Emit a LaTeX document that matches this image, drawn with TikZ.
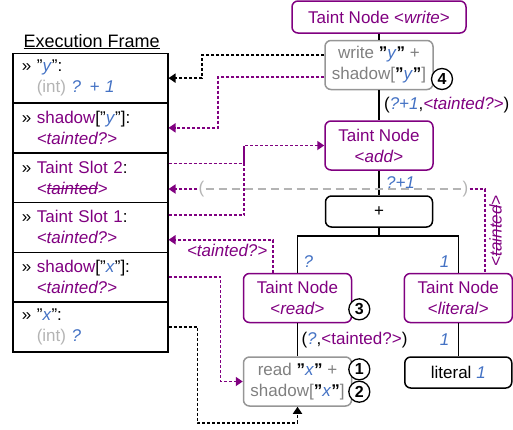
\documentclass[tikz,border=0pt]{standalone}
\usepackage{fontspec}
\setmainfont{Liberation Sans}
\usepackage{tikz}
\usetikzlibrary{arrows.meta,positioning}

\definecolor{taint}{RGB}{128,0,128}
\definecolor{valblue}{RGB}{68,114,196}
\definecolor{intgray}{RGB}{180,180,180}
\definecolor{opgray}{RGB}{128,128,128}
\definecolor{edgegray}{RGB}{150,150,150}

\newsavebox{\strikebox}
\newcommand{\strike}[1]{\sbox{\strikebox}{#1}\rlap{\rule[0.3em]{\wd\strikebox}{0.9pt}}\usebox{\strikebox}}
\newcommand{\val}[1]{\textcolor{valblue}{\textit{#1}}}
\newcommand{\qv}[1]{\textcolor{black}{\textbf{"}}\val{#1}\textcolor{black}{\textbf{"}}}
\newcommand{\tcol}[1]{\textcolor{taint}{#1}}
\newcommand{\tval}[1]{\textcolor{taint}{\textit{<#1>}}}
\newcommand{\tkind}[1]{<\textit{#1}>}

\begin{document}
\begin{tikzpicture}[x=1pt,y=-1pt,
  every node/.style={font=\fontsize{17}{21}\selectfont},
  slot/.style={draw, line width=1.5pt, anchor=north west, minimum width=155pt,
    minimum height=49.75pt, text width=137pt, inner xsep=9pt, align=left},
  tnode/.style={draw=taint, text=taint, line width=1.5pt, rounded corners=6pt,
    minimum width=108pt, minimum height=49pt, align=center, inner sep=2pt},
  opbox/.style={draw=edgegray, text=opgray, line width=1.5pt, rounded corners=6pt,
    minimum width=108pt, minimum height=49pt, align=center, inner sep=2pt},
  valbox/.style={draw, line width=1.5pt, rounded corners=6pt,
    minimum width=107pt, minimum height=31pt},
  stepno/.style={circle, draw, fill=white, line width=1.3pt, minimum size=21pt,
    inner sep=0pt, font=\bfseries\fontsize{16}{16}\selectfont},
  tree/.style={line width=1.5pt},
  ptr/.style={line width=1.7pt, dash pattern=on 3pt off 2pt},
  flow/.style={ptr, draw=taint},
  tip/.style={-{Triangle[length=7pt,width=9pt]}}]
  \useasboundingbox (0,0) rectangle (513,429);

  \node[anchor=base west, font=\fontsize{18}{21}\selectfont] (title) at (20,47) {\underline{Execution Frame}};
  \foreach \i/\txt in {
    1/{» "\val{y}":\\\hspace*{15pt}\textcolor{intgray}{(int)} \val{? + 1}},
    2/{» \tcol{shadow}["\val{y}"]:\\\hspace*{15pt}\tval{tainted?}},
    3/{» \tcol{Taint Slot 2}:\\\hspace*{15pt}\textcolor{taint}{\textit{<\strike{tainted}>}}},
    4/{» \tcol{Taint Slot 1}:\\\hspace*{15pt}\tval{tainted?}},
    5/{» \tcol{shadow}["\val{x}"]:\\\hspace*{15pt}\tval{tainted?}},
    6/{» "\val{x}":\\\hspace*{15pt}\textcolor{intgray}{(int)} \val{?}}}{
    \node[slot] (r\i) at (12,{52.5+49.75*(\i-1)}) {\txt};
  }

  \node[tnode, minimum width=174pt, minimum height=32pt] (write) at (379,17) {Taint Node \tkind{write}};
  \node[opbox] (wrbox) at (379,65) {write \qv{y} +\\shadow[\qv{y}]};
  \node[tnode] (add) at (379,145.5) {Taint Node\\\tkind{add}};
  \node[valbox] (plus) at (379,211.5) {+};
  \node[tnode] (read) at (297.5,298) {Taint Node\\\tkind{read}};
  \node[tnode] (lit) at (458.3,298) {Taint Node\\\tkind{literal}};
  \node[opbox] (rdbox) at (297.5,381.5) {read \qv{x} +\\shadow[\qv{x}]};
  \node[valbox] (litval) at (458.3,372.5) {literal \val{1}};

  \node[stepno] (n4) at (442,79) {4};
  \node[stepno] (n3) at (359.3,309.3) {3};
  \node[stepno] (n1) at (359.3,369.3) {1};
  \node[stepno] (n2) at (359.3,391.7) {2};

  \draw[tree] (write) -- (wrbox);
  \draw[tree] (wrbox) -- node[right, xshift=1pt] (l1) {(\val{?+1},\tval{tainted?})} (add);
  \draw[tree] (add) -- node[right, xshift=3pt] (l2) {\val{?+1}} (plus);
  \coordinate (fork) at (379,236);
  \draw[tree] (plus) -- (fork);
  \draw[tree] (read.north) -- node[pos=0.3, right, xshift=2pt] (l3) {\val{?}} (read.north |- fork)
    -- (lit.north |- fork) -- node[pos=0.7, left, xshift=-5pt] (l4) {\val{1}} (lit.north);
  \draw[tree] (read) -- node[right] (l5) {(\val{?},\textcolor{taint}{<tainted?>})} (rdbox);
  \draw[tree] (lit) -- node[left, xshift=-5pt] (l6) {\val{1}} (litval);

  \node[text=intgray, inner sep=1pt] (lp) at (201.5,189) {(};
  \node[text=intgray, inner sep=1pt] (rp) at (465.5,189) {)};
  \draw[draw=intgray, line width=1.5pt, dash pattern=on 8pt off 5pt] (lp) -- (rp);

  \draw[ptr, tip] ([yshift=10pt]wrbox.west) -- ++(-122,0) |- (r1.east);
  \draw[flow, tip] ([yshift=-12pt]wrbox.west) -- ++(-106.5,0) |- (r2.east);
  \draw[flow, tip] ([yshift=14pt]r3.east) -| ([xshift=-80pt]add.west) -- (add.west);
  \draw[flow] ([yshift=12.5pt]r4.east) -| ([xshift=-80pt]add.west);
  \draw[flow, tip] (lp.west) -- (lp.west -| r3.east);
  \draw[flow] (rp.east) -| ([xshift=26.7pt]lit.north)
    node[pos=0.75, rotate=90, anchor=north, text=taint] (l7) {\textit{<\strike{tainted}>}};
  \draw[flow, tip] ([xshift=-24.2pt]read.north) |- ([yshift=-12.4pt]r4.east)
    node[pos=0.72, below, yshift=-3pt, text=taint, inner sep=1pt] (l8) {\textit{<tainted?>}};
  \draw[flow, tip] (r5.east) -- ++(52,0) |- (rdbox.west);
  \draw[ptr, tip] (r6.east) -- ++(29,0) |- ([yshift=-16.3pt]rdbox.south) -- (rdbox.south);
\end{tikzpicture}
\end{document}
